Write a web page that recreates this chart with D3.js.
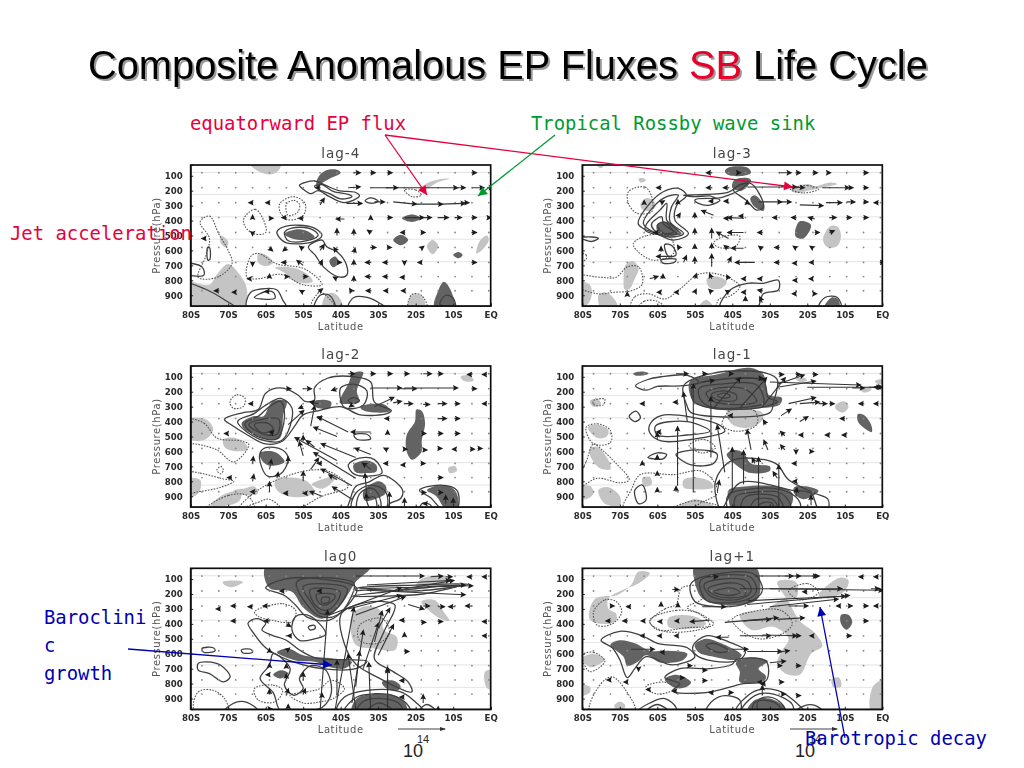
<!DOCTYPE html>
<html>
<head>
<meta charset="utf-8"/>
<title>Composite Anomalous EP Fluxes SB Life Cycle</title>
<script src="https://cdn.jsdelivr.net/npm/d3@7"></script>
<style>
    html, body { margin: 0; padding: 0; background: #fff; }
    svg { display: block; }
    .slide-title { font: 39.8px "Liberation Sans", Arial, sans-serif; filter: drop-shadow(2px 2px 0 #9a9a9a); }
    .note { font: 18.9px "DejaVu Sans Mono", monospace; }
    .panel-title { font: 13.5px "DejaVu Sans", sans-serif; fill: #444; letter-spacing: 1px; text-anchor: middle; }
    .axis-name { font: 10px "DejaVu Sans", sans-serif; fill: #555; letter-spacing: .6px; text-anchor: middle; }
    .axis text { font: bold 8.6px "DejaVu Sans", sans-serif; fill: #2a2a2a; }
    .axis path, .axis line { stroke: #222; }
    .power { font: 18px "Liberation Sans", Arial, sans-serif; fill: #222; }
</style>
</head>
<body>
<svg id="chart" width="1024" height="768"></svg>
<script>
// axes
const latTicks = [-80, -70, -60, -50, -40, -30, -20, -10, 0];
const latLabels = ["80S", "70S", "60S", "50S", "40S", "30S", "20S", "10S", "EQ"];
const pressureTicks = [100, 200, 300, 400, 500, 600, 700, 800, 900];
// flux grid, small dots where the vectors are too short to see
const gridLats = [-77, -72.5, -68, -63.5, -59, -54.5, -50, -45.5, -41, -36.5, -32, -27.5, -23, -18.5, -14, -9.5, -5, -0.5];
const gridLevels = [80, 180, 280, 380, 480, 580, 680, 775, 870];
// faint scan lines of the original plots
const faintLevels = [78, 225, 375, 525, 675, 825];

// lag-4: shading, contours as [lat, hPa]; arrows as [lat, hPa, dLat, dHPa]
const lagM4Light = [
    [[-64,25],[-62,70],[-59,92],[-57,75],[-56,25]],
    [[-19,190],[-17,150],[-14,125],[-11,120],[-14,142],[-16,172],[-18,198]],
    [[-17,570],[-15.5,530],[-14,570],[-15.5,625]],
    [[-3.8,620],[-3,540],[-1,500],[-.5,530],[-2,590]],
    [[-72,500],[-70,540],[-70.5,580],[-72,550]],
    [[-62,625],[-60,630],[-58,680],[-60,705],[-62,680]],
    [[-57.5,715],[-52,720],[-48,780],[-47.5,810],[-52,812],[-55,750]],
    [[-82,810],[-75,830],[-73,760],[-70,690],[-67,760],[-65,860],[-66,985],[-82,985]],
    [[-44.8,985],[-44,900],[-42,885],[-40,930],[-39.5,985]],
    [[-22,985],[-21,900],[-18.5,905],[-17.5,985]]
];
const lagM4Dark = [
    [[-46.5,170],[-46,110],[-44,65],[-41,60],[-40,80],[-43,120],[-45,150],[-46,180]],
    [[-55,490],[-52,460],[-49,470],[-47,510],[-49,530],[-53,520]],
    [[-43,670],[-41.5,640],[-40.5,680],[-42,712]],
    [[-23.7,385],[-21,360],[-18.5,385],[-21,410]],
    [[-26,530],[-24,495],[-22,530],[-24,565]],
    [[-10,630],[-8.5,610],[-7.5,630],[-8.5,652]],
    [[-15,985],[-14,870],[-12.5,810],[-11,850],[-9.7,985]]
];
const lagM4Solid = [
    [[-51,165],[-47,135],[-44,165],[-40.5,200],[-36,212],[-35,235],[-39,280],[-43,240],[-46,200],[-48,220],[-50,190]],
    [[-47,170],[-45,160],[-42,205],[-38,225],[-37,240],[-40,255],[-43,220],[-46,190]],
    [[-57,475],[-54.5,437],[-47.5,446],[-45,498],[-47.5,542],[-54.5,549],[-56.5,509]],
    [[-55,480],[-53,450],[-48,455],[-46,498],[-49,535],[-54,535]],
    [[-48.6,576],[-46.8,632],[-44.6,710],[-40.6,777],[-38.4,766],[-38.6,688],[-41,609],[-43.7,576],[-45,531]],
    [[-65,985],[-64,880],[-60,855],[-57,865],[-55.5,930],[-54.5,985]],
    [[-63,915],[-60,875],[-58,880],[-57.5,920],[-61,925]],
    [[-38,985],[-36.5,915],[-33,915],[-29.5,955],[-28,985]],
    [[-13.5,960],[-12,900],[-10,920],[-9.5,985]],
    [[-82,690],[-77,710],[-76.5,765],[-82,750]],
    [[-75.5,580],[-75,580],[-74.9,660],[-75.4,665]],
    [[-33.5,268],[-32,248],[-30,270],[-31.8,285]],
    [[-82,820],[-76,860],[-71,930],[-68,985],[-82,985]],
    [[-47,985],[-45.5,900],[-43,900],[-41.5,985]]
];
const lagM4Dashed = [
    [[-77.5,410],[-75,370],[-72.5,490],[-70,600],[-69,690],[-73,780],[-78,780],[-76,640],[-75,520]],
    [[-65.8,385],[-62.8,325],[-60.6,395],[-60,480],[-63,490],[-65.5,440]],
    [[-56.2,285],[-52.6,240],[-49.5,285],[-50,365],[-54,395],[-56.2,340]],
    [[-54.5,290],[-52.5,265],[-51,290],[-51.5,345],[-54,365]],
    [[-64,640],[-62,620],[-57,690],[-50,720],[-46,790],[-45,830],[-50,830],[-56,760],[-62,790],[-65,780]],
    [[-23,195],[-20,195],[-18.5,230],[-21,240]],
    [[-22,985],[-21,895],[-18.5,900],[-17,985]],
    [[-48,985],[-45.5,880],[-41.5,985]]
];
const lagM4Arrows = [
    [-36.5,80,1.5,0],[-32,80,1,0],[-27.5,80,1,0],[-5,80,1,0],[-45.5,180,-1,0],
    [-38,180,3,-5],[-32,180,23,0],[-28,180,3,0],[-9.5,180,2.5,0],[-5,180,3,0],[-1,180,1.5,0],
    [-63.5,280,-.8,0],[-59,280,-.8,0],[-45.5,295,1,-40],[-38.5,285,4,0],[-31,275,2.5,0],
    [-26,275,6,15],[-20,290,7,0],[-13,290,6,-5],[-8,280,2,0],
    [-63.5,385,0,-15],[-59,385,.8,0],[-54.5,380,-1,0],[-50,385,-1,0],[-39,390,-2,0],[-32,390,0,-18],[-27.5,380,1,0],
    [-23,380,5,0],[-18,380,2,0],[-14,380,2.5,0],[-9.5,380,1.5,0],[-5,380,1,0],[-.6,380,.5,0],
    [-63.5,480,0,15],[-41,500,0,-40],[-36.5,500,0,-35],[-32,480,-.7,-12],[-23,480,-.8,0],[-18.5,480,.8,0],
    [-5,480,1,0],[-76,520,-.8,0],[-59,585,.7,15],[-54.5,585,-.7,15],[-50,590,-.8,-15],[-45.5,600,1,-35],
    [-41,610,-.7,-25],[-36.5,620,.3,-30],[-32,580,1.2,0],[-27.5,580,.8,0],[-18.5,585,.5,-10],
    [-63.5,680,0,20],[-54.5,680,-1,0],[-50,700,-1.5,-30],[-45.5,700,.5,-30],[-41,680,1,0],[-36.5,700,0,-30],
    [-32,680,-1.2,0],[-27.5,680,-1,0],[-23,680,0,10],[-18.5,680,-.7,0],[-5,680,1,0],
    [-64,790,-.7,0],[-59,775,0,-10],[-54.5,775,.5,0],[-50,775,1,0],[-41,790,-.8,-10],[-36.5,810,0,-30],
    [-32,775,-1.2,0],[-27.5,775,-1,0],[-23,780,-.9,0],[-72.5,870,-1,0],[-68,880,-.7,0],[-59,875,-1,0],
    [-50,880,-.7,-10],[-46,880,1,-20],[-37,880,-.5,-20],[-32,870,-1,0],[-27.5,870,-.8,0],[-23,870,-.6,0]
];

// lag-3
const lagM3Light = [
    [[-76.5,20],[-75,50],[-74,20]],
    [[-65,120],[-64,115],[-63,130],[-64.5,145]],
    [[-64.5,290],[-63,250],[-61,265],[-60.5,310],[-62,335],[-64,325]],
    [[-69,800],[-68.5,700],[-66.5,670],[-65,720],[-66,790],[-67.5,860],[-68.7,860]],
    [[-82,810],[-78,830],[-77.5,900],[-79,970],[-82,970]],
    [[-75.7,900],[-74,880],[-72,910],[-70.5,985],[-75,985]],
    [[-49,985],[-47,930],[-45,985]],
    [[-46.8,790],[-44,775],[-41.5,810],[-43,855],[-46,850]],
    [[-24.5,190],[-20,155],[-18,170],[-14,145],[-12,155],[-16,180],[-19,195],[-23,215]],
    [[-15.8,530],[-14,440],[-12,440],[-11,500],[-12,570],[-14.5,580]]
];
const lagM3Dark = [
    [[-42,70],[-41,45],[-36,45],[-35,80],[-37,100],[-41,95]],
    [[-39.5,130],[-36,115],[-35,130],[-37.5,200],[-40,180]],
    [[-35.2,250],[-34,230],[-31.5,300],[-31.7,335],[-34,310]],
    [[-60,425],[-57,410],[-55,450],[-53.5,490],[-57,495],[-60,470]],
    [[-23.3,480],[-22,405],[-19,430],[-21,520],[-23,510]],
    [[-15.5,985],[-13.5,915],[-11.7,930],[-11.5,985]]
];
const lagM3Solid = [
    [[-65.1,420],[-62,285],[-58.4,207],[-54.4,185],[-52.2,230],[-54.8,297],[-55.3,397],[-51.7,487],[-55.7,531],[-60.2,487],[-63.7,453]],
    [[-63.7,420],[-60.6,297],[-57.5,240],[-54.4,230],[-56.2,308],[-56.6,408],[-53,487],[-56.6,510],[-61,476]],
    [[-62.8,420],[-59.3,330],[-57.5,285],[-57.5,397],[-54.4,476],[-57.5,498],[-63.2,465]],
    [[-61.5,420],[-58.8,375],[-58.4,420],[-55.7,476],[-58.4,487],[-61,460]],
    [[-60,430],[-58,410],[-56,460],[-54.8,490],[-58,490]],
    [[-50,263],[-46.8,252],[-43.3,263],[-46,297],[-49,285]],
    [[-53,230],[-47,225],[-41,210],[-38,160],[-36,150],[-38,195],[-44,250],[-46,235],[-50,240]],
    [[-39.7,195],[-35.3,150],[-32.6,230],[-31.7,310],[-33.5,330],[-36.2,265]],
    [[-80.5,515],[-77.5,510],[-75.7,520],[-77.5,540],[-79.3,530]],
    [[-43.3,985],[-40.6,865],[-36,820],[-31.7,820],[-27.7,800],[-27.7,865],[-31.7,890],[-33.5,985]],
    [[-17,985],[-15.3,915],[-12,915],[-11,985]],
    [[-58,560],[-56,570],[-55,630],[-57,640]],
    [[-59,665],[-55,660],[-55.5,680],[-58.5,685]]
];
const lagM3Dashed = [
    [[-67.7,207],[-63.3,175],[-61.5,240],[-61.5,340],[-65.5,350],[-67.7,285]],
    [[-66.4,555],[-62.8,500],[-56.6,510],[-55.7,620],[-61,665],[-65.5,600]],
    [[-82,770],[-75,780],[-71,780],[-68,710],[-65,710],[-64,825],[-67,870],[-71.5,880],[-76,890],[-82,830]],
    [[-67,985],[-66,910],[-62.5,890],[-58,925],[-54,860],[-49,760],[-43.5,760],[-38,840],[-40.6,905],[-43.5,925],[-45,985]],
    [[-65,985],[-63.5,940],[-60,940],[-58,985]],
    [[-45,550],[-42,505],[-38,505],[-39,570],[-43.5,580]],
    [[-80.5,620],[-79,630],[-79,660],[-80.5,670]],
    [[-24.5,190],[-20,165],[-17,190],[-21,215]]
];
const lagM3Arrows = [
    [-45.5,80,-1.2,0],[-38,80,0,0],[-27.5,80,3,0],[-23,80,1,0],[-18.5,80,1,0],[-14,80,0,0],[-5,80,1,0],
    [-59,180,-1,0],[-45.5,180,-1.2,0],[-41,180,-1.2,0],[-36,175,13,0],[-27,170,6,10],[-16,180,7,0],[-9.5,180,1.5,0],[-5,180,1,0],
    [-63.5,280,0,-10],[-59,280,.7,-10],[-54.5,280,0,-12],[-45,270,-1,0],[-41,270,-1,0],[-36,285,0,-15],[-33,275,6,0],
    [-27,275,2.5,0],[-22,295,6,5],[-15,280,4,0],[-9.5,275,2,0],[-5,275,1,0],[-1,280,-1,0],
    [-54.5,375,.5,-20],[-50,385,0,-30],[-41,385,-1,0],[-37,385,-4,-5],[-45,365,-3,-30],[-37,370,-1,0],
    [-28,380,-1,0],[-23,380,-1,0],[-18,390,-1.5,-10],[-14,380,1.5,0],[-9.5,380,1,0],[-5,380,1,0],
    [-60,480,-.7,0],[-50,495,0,-35],[-45.5,520,0,-60],[-41,520,-3,-40],[-37,480,-4,0],[-32,480,-1,0],
    [-18,480,1,0],[-14,480,1,-10],[-59,610,0,-30],[-54,590,-.5,-20],[-50,590,0,-25],[-45.5,590,0,-30],[-41,590,-1,-20],
    [-37,585,-3,0],[-32,590,-.8,-15],[-27.5,580,-1,0],[-23,585,-.6,-10],[-18.5,585,-.6,-10],
    [-56,640,-4,0],[-53,680,.7,-40],[-50,690,0,-40],[-45.5,710,0,-80],[-41,680,.6,-30],[-34,680,-5,0],[-27.5,680,-1,0],[-23,685,-.7,0],[-18.5,680,-.7,0],[-.6,680,1,0],
    [-62,790,2,-15],[-58.5,790,0,-25],[-50,790,.4,-30],[-45.5,790,-.5,-30],[-41,790,-.4,-20],[-36.5,790,-.8,0],[-32,790,-1,0],[-23,800,-.6,0],[-18.5,790,-.8,0],
    [-68,905,0,-20],[-59,880,-.8,0],[-54.5,880,-.7,0],[-50,880,.3,-15],[-45.5,880,-.6,-15],[-41,880,-.6,-10],[-36.5,880,-.8,0],[-32,870,-1,-5],[-23,890,-.8,0],[-18.5,890,.8,0],[-32,950,-.6,-35],[-36.5,940,0,-25]
];

// lag-2
const lagM2Light = [
    [[-82,395],[-76,385],[-74,450],[-75.5,510],[-78,530],[-82,500]],
    [[-71.3,520],[-68,510],[-65,560],[-65,590],[-69,595],[-71,570]],
    [[-82,790],[-77.5,790],[-77.5,860],[-79,900],[-82,900]],
    [[-74.7,960],[-72,900],[-68,865],[-66.5,880],[-67,930],[-71,965]],
    [[-68.5,860],[-66,850],[-63,835],[-62,880],[-66,890]],
    [[-57.5,800],[-53,775],[-49,800],[-47,870],[-49,900],[-54,900],[-57,860]],
    [[-47.7,820],[-44,780],[-41,760],[-42,800],[-45,850]],
    [[-8,100],[-6,90],[-4.5,125],[-7,130]],
    [[-11.3,710],[-9.5,700],[-9,730],[-11,745]]
];
const lagM2Dark = [
    [[-66.4,410],[-63.3,365],[-60.6,365],[-59.3,308],[-58,263],[-54.4,263],[-55.3,353],[-56.2,510],[-59.3,520],[-63.3,487],[-66,443]],
    [[-61.5,610],[-58,600],[-56,630],[-55,670],[-59,695],[-61,660]],
    [[-47.7,270],[-44,255],[-42.5,270],[-43,310],[-47,300]],
    [[-36.6,75],[-34,70],[-34.8,130],[-35.7,195],[-35,263],[-35.7,275],[-40.2,275],[-39.8,230],[-38,150]],
    [[-34.8,300],[-31,280],[-28,290],[-26.8,330],[-31,340],[-34,325]],
    [[-19.8,320],[-18.4,330],[-17.5,410],[-18.4,530],[-18.4,600],[-21,655],[-22.4,600],[-22.4,490],[-20.2,400]],
    [[-36.6,690],[-33,660],[-30.5,690],[-30.5,735],[-33,745],[-36,740]],
    [[-34,870],[-30,800],[-28,830],[-28,880],[-31,920],[-33.5,930]],
    [[-17,860],[-13,825],[-10,850],[-8.8,900],[-9,985],[-12,985],[-14.5,900]]
];
const lagM2Solid = [
    [[-71,385],[-66,340],[-62,320],[-60,210],[-56,175],[-51.5,220],[-49.5,265],[-47,255],[-47,175],[-43.5,110],[-36.5,100],[-32,135],[-31,270],[-26.5,325],[-27.5,345],[-34.8,355],[-40,300],[-45.5,325],[-50,355],[-52,420],[-55.5,530],[-60,550],[-65.5,480],[-69,425]],
    [[-67.5,400],[-63,345],[-60,290],[-56,245],[-53,310],[-54,465],[-56,530],[-60,530],[-65,470]],
    [[-65.5,410],[-62,365],[-59,300],[-56,265],[-55,375],[-57,515],[-60.5,515],[-64.5,460]],
    [[-64.5,420],[-61,385],[-56.5,385],[-57,485],[-60.5,485]],
    [[-63,420],[-59.5,410],[-58,450],[-61,475]],
    [[-40,175],[-36.5,150],[-33,195],[-34,290],[-39,305]],
    [[-38,260],[-36.5,240],[-35,260],[-36.5,280]],
    [[-61.5,610],[-60,575],[-55.5,590],[-54,650],[-56,750],[-59.5,765],[-61,710]],
    [[-38,690],[-35,645],[-31,655],[-29,745],[-32.5,765],[-36.5,750]],
    [[-36.5,490],[-33,485],[-32,515],[-35.5,520]],
    [[-38,985],[-37.5,925],[-36,835],[-32.5,805],[-28.5,760],[-23.5,860],[-24,915],[-27,950],[-27.5,985]],
    [[-35.5,985],[-35,885],[-32,845],[-30,885],[-29.5,985]],
    [[-37,985],[-36,880],[-32,825],[-28,870],[-28,985]],
    [[-32,985],[-33,920],[-31,905],[-30.5,985]],
    [[-19,860],[-13.5,825],[-9,860],[-9,985],[-13,985],[-16,910]],
    [[-19,985],[-18,945],[-16,960],[-16,985]]
];
const lagM2Dashed = [
    [[-69.5,265],[-67.7,220],[-65.5,245],[-66,300],[-68.7,310]],
    [[-82,385],[-76.5,410],[-73,510],[-66.5,530],[-64.5,555],[-68.5,670],[-73,590],[-77.5,555],[-82,530]],
    [[-73,725],[-72,700],[-71.3,725],[-72,750]],
    [[-82,740],[-77.5,745],[-72,780],[-68.5,800],[-72,840],[-78,870],[-82,880]],
    [[-67,985],[-64,895],[-57,790],[-48,725],[-43,735],[-38,835],[-45,900],[-52,985]],
    [[-66,985],[-62,940],[-59,920],[-56,985]],
    [[-76,985],[-70,895],[-65,895],[-63,985]]
];
const lagM2Arrows = [
    [-38,80,1.5,0],[-32,80,1,0],[-27.5,80,1,0],[-23,80,1,0],[-18,80,2,0],[-14,80,1,0],[-5,85,-1,0],[-1,85,-1,0],
    [-54.5,180,1,0],[-50,180,2,0],[-41,180,-1.2,10],[-32,175,8,0],[-24,180,4,0],[-23,175,14,0],[-5,180,1,0],
    [-63.5,280,-.8,0],[-50,300,-1,10],[-46,280,-2,-10],[-37,290,-.5,10],[-31,300,5,-60],[-26,275,2,-10],[-23,280,2,0],[-18,285,1.5,0],[-14,280,2,0],[-9.5,280,1,0],[-1,280,-1,0],
    [-48,430,1,-130],[-54,420,4,-90],[-45,375,-1,0],[-38,470,-8,-100],[-27,380,-1,0],[-14,380,2,0],[-9.5,380,1,0],
    [-70,480,-.8,0],[-59,490,1,-25],[-41,500,-6,-60],[-32,470,-5,0],[-27.5,480,0,-15],[-18.5,480,1,0],[-14,480,1,0],[-9.5,480,1,0],
    [-50,530,0,-30],[-47,570,-2,-40],[-50,630,-1,-90],[-41,660,-11,-150],[-36,640,-9,-90],[-32,620,-4,-40],[-27.5,590,-.8,-10],[-23,585,.5,0],[-18,590,.8,0],[-14,580,.8,0],[-9.5,585,-.5,0],[-5.5,585,1,0],[-3.5,580,1,0],
    [-63.5,680,.2,-40],[-59,720,.5,-60],[-54,680,0,-40],[-48,720,2,-70],[-45,680,-1,0],[-36,780,-11,-170],[-32,720,-2,-40],[-27.5,680,-.8,0],[-23,690,-.7,0],[-18.5,680,.8,0],
    [-69,775,-1,0],[-63.5,800,.3,-40],[-57,780,.3,-35],[-50,800,0,-60],[-41,790,-2,-30],[-37,830,-8,-110],[-33,905,-.5,-150],[-14,775,1,0],
    [-59,870,0,-60],[-63,870,-.8,0],[-54,880,-1,0],[-49,880,-.8,0],[-45,900,-3,-30],[-37,920,-5,-80],[-33,930,-.2,-40],[-27,980,0,-100],[-23,970,0,-50],[-18.5,875,1,0],[-14,875,1,0],[-17,950,-.8,0],[-12,950,0,-50],[-10,960,0,-40]
];

// lag-1
const lagM1Light = [
    [[-78,265],[-76,245],[-75,285],[-77,300]],
    [[-78.5,440],[-76,420],[-73,460],[-73.5,500],[-76,510]],
    [[-78,580],[-76,570],[-73,660],[-72.5,720],[-75.5,710],[-78,620]],
    [[-82,850],[-78,830],[-77,880],[-79,920],[-82,900]],
    [[-75.7,860],[-73,840],[-70,900],[-70,960],[-74,950]],
    [[-64,780],[-62,770],[-61.5,820],[-63.5,835]],
    [[-53,790],[-50,775],[-46,800],[-45,840],[-50,855],[-53,840]],
    [[-41.5,330],[-36,320],[-32,340],[-32,390],[-35,440],[-40,420]],
    [[-12.5,290],[-10,265],[-9,300],[-10.5,340],[-12.3,320]],
    [[-23,115],[-21,105],[-20,125],[-22,135]],
    [[-6,180],[-3,170],[-3,190],[-5,205]],
    [[-2,130],[0,115],[1,140],[-1,150]],
    [[-55,985],[-50,920],[-44,985]]
];
const lagM1Dark = [
    [[-51.3,130],[-44.2,85],[-35.3,40],[-31.7,85],[-30.4,218],[-26.8,240],[-27.3,285],[-31.7,308],[-44.2,320],[-50.4,263]],
    [[-66.4,78],[-64,65],[-62.3,78],[-64,92],[-66,90]],
    [[-6.5,350],[-5,355],[-3,420],[-2.8,470],[-5,440],[-6.5,400]],
    [[-41.5,620],[-39.5,590],[-37,610],[-35,680],[-30,700],[-30,730],[-35,745],[-39,690]],
    [[-41,860],[-37,835],[-28,835],[-24,880],[-25,985],[-40,985],[-41,920]],
    [[-23.5,840],[-20,835],[-17,865],[-21,920],[-23.5,880]]
];
const lagM1Solid = [
    [[-50.4,165],[-44,120],[-31.7,130],[-30.4,240],[-28,265],[-33,308],[-46,308],[-50.4,263]],
    [[-48.7,175],[-43.5,150],[-33.5,155],[-31.7,275],[-35,300],[-46,300],[-48.7,240]],
    [[-47,210],[-43.5,175],[-36.4,185],[-33.5,265],[-37,285],[-45,265]],
    [[-45.6,220],[-42.7,195],[-39,220],[-39,255],[-44,255]],
    [[-44,225],[-42,210],[-40.5,230],[-42,245]],
    [[-65.8,160],[-62.7,120],[-59,100],[-52,90],[-49,135],[-53,160],[-60,165],[-63,190]],
    [[-53,160],[-52,300],[-51,340],[-30,340],[-29,270],[-28,120],[-31,75],[-45,75]],
    [[-62,420],[-59,360],[-51,370],[-43,430],[-42,465],[-51,520],[-59,530],[-62,475]],
    [[-60.5,430],[-52,400],[-46,465],[-52,490],[-60,490]],
    [[-62.5,640],[-60,610],[-57.5,620],[-58.5,650],[-61,650]],
    [[-55,620],[-49,590],[-44,620],[-45,680],[-51,690]],
    [[-67.5,365],[-65.7,330],[-64.5,375],[-66,400]],
    [[-66,860],[-64,825],[-63,925],[-65,950]],
    [[-41,985],[-41,890],[-36.5,855],[-27,855],[-22.5,920],[-22,985]],
    [[-39,985],[-39,900],[-35,875],[-27.5,875],[-25,930],[-24.5,985]],
    [[-37.5,985],[-36.5,905],[-28,905],[-26.5,985]],
    [[-35,985],[-34,925],[-29,925],[-28,985]],
    [[-33.5,985],[-32,945],[-29.5,945],[-29,985]],
    [[-43,985],[-44.5,800],[-40,660],[-28.5,680],[-25,790],[-18,880],[-14.5,920],[-14.5,985],[-17,985],[-19,880],[-24,860],[-38,810]]
];
const lagM1Dashed = [
    [[-79,440],[-76,415],[-72.5,460],[-72.5,540],[-77,550]],
    [[-82,820],[-79,670],[-77,550],[-74.5,595],[-71,680],[-67.5,790],[-70,810],[-76,780],[-82,860]],
    [[-77,260],[-74,250],[-74.5,290],[-77,285]],
    [[-69,985],[-67,860],[-64.5,755],[-55.5,755],[-48.5,730],[-45,800],[-44,880],[-48.5,945],[-51,985]],
    [[-51,545],[-47.5,520],[-44.5,575],[-48,610],[-51.5,565]],
    [[-40.2,320],[-34,330],[-33.5,420],[-39,465],[-42.7,420]],
    [[-56,985],[-50,930],[-42,985]]
];
const lagM1Arrows = [
    [-55,80,3,0],[-48,80,1,0],[-41,80,1,0],[-27.5,85,1,0],[-23,85,1,0],[-18.5,85,1,0],
    [-48,135,3,-10],[-38,110,6,0],[-28,150,7,-60],[-28,170,10,-40],[-30,135,24,20],[-20,170,20,0],[-8,175,3,0],[-3.5,170,3,0],[-1,170,-1,0],
    [-45,310,7,-200],[-38,310,7,-200],[-32,300,6,-190],[-25,280,7,-40],[-22,280,5,-10],[-17,280,2,0],[-14,280,1,0],[-5,280,-1,0],[-1,280,-1,0],
    [-63.5,280,-.8,0],[-54.5,270,-1,0],
    [-50.4,875,0,-720],[-45.7,640,0,-400],[-52,400,-1,-190],[-54.6,830,0,-390],[-42,740,-2,-310],[-40,880,0,-300],[-37,820,0,-220],[-33,985,0,-340],[-27.6,985,0,-290],[-44,870,.5,-70],
    [-27,360,2.5,-40],[-22,400,2,-30],[-10,380,-1,0],[-40,360,-.8,0],[-31,420,-.6,-25],
    [-26,495,-1,-25],[-21,490,-1,0],[-14,490,-1,0],[-9.5,490,-1,0],[-35,590,-1,-130],[-30.5,590,-1,-60],[-26,590,-1,-30],[-23,600,0,10],[-18.5,600,0,0],
    [-34,680,-.6,-30],[-28,780,-1,-40],[-23,680,-.8,0],[-60,760,0,-20],[-64,680,0,-10],[-60,640,0,-10],[-60,520,0,-40],[-59,470,-1,0],
    [-55,870,0,-30],[-60,870,0,-20],[-23,800,-.6,0],[-23,900,.2,-50],[-19,960,0,-60]
];

// lag0
const lag0Light = [
    [[-71.5,120],[-68,110],[-66,120],[-69,155],[-71,140]],
    [[-20,150],[-18.5,100],[-13.5,75],[-11,95],[-13,140],[-18,160]],
    [[-18.5,250],[-15,240],[-12.5,320],[-11,380],[-13,370],[-17,300]],
    [[-1.5,720],[1,710],[1,840],[-1,830]],
    [[-37,340],[-33,280],[-29,320],[-28.5,440],[-25,490],[-25.5,575],[-31,565],[-36,540]]
];
const lag0Dark = [
    [[-60,15],[-32,15],[-36,120],[-38,200],[-40.5,290],[-45,365],[-50,290],[-53,185],[-59,160]],
    [[-57,590],[-54,565],[-50,610],[-42,632],[-37,655],[-39,699],[-43,688],[-47,654],[-52,645]],
    [[-58,740],[-56,710],[-54,730],[-56,765]],
    [[-29,790],[-26,780],[-24,820],[-25,850],[-28,830]],
    [[-37,985],[-35.7,900],[-31.3,870],[-25,885],[-22.5,945],[-22.5,985]]
];
const lag0Solid = [
    [[-51.7,118],[-36.5,129],[-37.4,230],[-40.9,341],[-45.3,352],[-48.9,275]],
    [[-50,150],[-38.3,163],[-39.3,240],[-42.8,330],[-45.4,330],[-48,252]],
    [[-48.2,174],[-40.2,185],[-41,252],[-43.7,308],[-46.4,286]],
    [[-46.5,205],[-41.5,210],[-42.5,252],[-44.6,275],[-46,252]],
    [[-45,225],[-43,225],[-43.3,255],[-45,260]],
    [[-60,160],[-55,210],[-52,275],[-49,355],[-43,375],[-39,300],[-35.7,163],[-45,100],[-55,100]],
    [[-64.7,395],[-62.5,365],[-60,395],[-61,440],[-58.4,475],[-54.5,510],[-51,575],[-46.5,630],[-39,640],[-33,650],[-36,700],[-45,700],[-52,660],[-56,620],[-60,560],[-63,470]],
    [[-52,350],[-49,340],[-46,390],[-44,470],[-47,500],[-51,510],[-53,440]],
    [[-48.6,420],[-47,410],[-46.8,430],[-48.2,440]],
    [[-78,665],[-75.7,654],[-72,677],[-69.5,755],[-71.3,788],[-75,733],[-78,710]],
    [[-77,565],[-74,560],[-73.5,580],[-76.5,590]],
    [[-66.5,575],[-64,570],[-63.5,590],[-66,595]],
    [[-61.5,766],[-59,677],[-58,600],[-53.5,699],[-55,811],[-52.5,878],[-50,833],[-51,766],[-48,680],[-44,710],[-42.5,860],[-45,960],[-50,985],[-56,985],[-58,860]],
    [[-41,985],[-39,890],[-33,845],[-24,855],[-20,925],[-18,985]],
    [[-39,985],[-35.7,890],[-31,868],[-26,880],[-22.4,935],[-21.5,985]],
    [[-35.7,985],[-34,920],[-29,900],[-24.6,930],[-23.5,985]],
    [[-33,985],[-30,930],[-26.5,970]],
    [[-36,165],[-20,140],[-6,135],[-20,180],[-31,170],[-36,175]],
    [[-37,215],[-20,165],[-8,140],[-18,200],[-30,215]],
    [[-40,340],[-36,275],[-29,250],[-25.5,275],[-28.5,455],[-31,635],[-26,720],[-22,790],[-21,855],[-30,760],[-37,640]],
    [[-71,985],[-68,925],[-65,925],[-62,985]],
    [[-19,980],[-17,940],[-14.5,985]]
];
const lag0Dashed = [
    [[-63,320],[-55.5,265],[-52,310],[-53,385],[-58.5,375],[-62,350]],
    [[-79,985],[-78,855],[-74,845],[-71,900],[-70,985]],
    [[-63,833],[-58,810],[-55.5,845],[-57.5,922],[-62,910]],
    [[-53.5,878],[-49,855],[-45.5,833],[-42.5,777],[-39,833],[-42,900],[-45.5,922],[-50,930]],
    [[-35,410],[-29,364],[-27,460],[-30,530],[-35,510]]
];
const lag0Arrows = [
    [-36,80,18,0],[-16,85,3,-5],[-12,85,1.5,0],[-5,85,-1,0],[-1,85,-1,0],
    [-55,180,-1,0],[-45,180,-1,0],[-35,165,30,-20],[-33,175,26,30],[-24,170,14,-60],[-17,150,10,-10],[-33,140,22,-30],
    [-43,340,19,-180],[-38,300,14,-90],[-22,270,4,30],[-36,340,13,-120],
    [-72,300,-1,0],[-68,280,-1,0],[-63.5,285,-1,0],[-59,280,-1.5,0],[-18,280,1.5,0],[-14,285,1.5,0],[-9.5,285,-1.5,0],[-5,280,-1.5,0],
    [-41,880,0,-230],[-37,930,3,-480],[-45.5,985,2,-670],[-41.5,975,5,-680],[-32,985,-.5,-320],[-27.5,985,0,-280],[-36,970,-2,-360],[-36,820,1,-230],[-34,700,4,-300],[-30,610,4,-200],[-31,520,2,-200],[-30,430,3,-130],
    [-68,380,-1,0],[-59,380,-1.2,0],[-54.5,400,1,15],[-23,375,-1,0],[-18.5,390,1,0],[-14,385,1,0],[-1,385,-1,0],
    [-53,480,-1,0],[-23,480,0,-15],[-1,480,-1,0],[-59,590,0,-20],[-54.5,580,.7,-15],[-23,585,1,0],
    [-59,680,0,-10],[-54.5,690,0,-15],[-50,780,0,-50],[-27.5,720,0,-25],[-23,780,-1,0],
    [-59,740,-.7,0],[-54.5,770,0,-30],[-54.5,880,.5,-40],[-59,870,0,-25],[-50,870,.5,-30],[-45,890,0,-20],[-18,930,0,-50],[-23,890,-1,0],[-14,975,0,-15],[-59,970,.5,0],[-54,960,0,-15]
];

// lag+1
const lagP1Light = [
    [[-76.5,230],[-74,215],[-71,210],[-67,140],[-65,50],[-62,60],[-65,130],[-69,170],[-73,230],[-73,300],[-71,330],[-71,380],[-75,400],[-78,370],[-78,300]],
    [[-57,360],[-53,340],[-49,360],[-47,400],[-50,430],[-57,420]],
    [[-38,340],[-31,300],[-26,230],[-23,230],[-23,120],[-28,120],[-25,250],[-22,380],[-18,460],[-16,550],[-19,600],[-22,740],[-26,730],[-28,660],[-27,590],[-25,500],[-29,420],[-35,440]],
    [[-17,210],[-14,130],[-11,90],[-9,110],[-10,180],[-13,220],[-15,230]],
    [[-82,810],[-78,820],[-78,860],[-80,880]],
    [[-71.5,950],[-70,920],[-68.5,950],[-70,985]],
    [[-3,985],[-2.5,820],[0,780],[1,985]],
    [[-13.5,770],[-11.5,760],[-11,820],[-13,825]],
    [[-80,630],[-77,600],[-74,640],[-78,690]]
];
const lagP1Dark = [
    [[-50,15],[-34,15],[-32.5,130],[-33.5,240],[-42,275],[-48,230],[-50,120]],
    [[-72.5,540],[-70,510],[-66,530],[-62,580],[-57,580],[-52,600],[-53,640],[-59,660],[-63,610],[-65,650],[-68,680],[-69,620]],
    [[-50,540],[-47,500],[-43,530],[-37.5,610],[-39,640],[-45,620],[-49,590]],
    [[-39,660],[-35,625],[-30.5,650],[-33,700],[-31,750],[-31.5,780],[-38,790],[-38,720]],
    [[-58,770],[-55,740],[-51,790],[-52,820],[-55,830]],
    [[-11,340],[-9,340],[-8,390],[-9.5,440],[-11,400]],
    [[-36,985],[-34,910],[-30,900],[-26,960],[-26,985]]
];
const lagP1Solid = [
    [[-48.5,110],[-40,70],[-35,90],[-33.5,170],[-35,225],[-42,260],[-47,240]],
    [[-47.5,135],[-40,95],[-36,115],[-35,180],[-37,225],[-42,240],[-46,210]],
    [[-46.5,165],[-40,125],[-37,150],[-36.5,205],[-41,225],[-45,205]],
    [[-45,185],[-40,160],[-38,190],[-41,210]],
    [[-51,130],[-41,55],[-34,70],[-32,180],[-36,260],[-44,285],[-50,250]],
    [[-75,510],[-70,450],[-64,480],[-60,530],[-52,560],[-50,620],[-56,675],[-63,620],[-66,700],[-68,760],[-70,640],[-72,560]],
    [[-50.5,550],[-47,480],[-41,520],[-36.5,580],[-38,640],[-45,650],[-50,600]],
    [[-47,545],[-45,530],[-41,580],[-44,590]],
    [[-58,760],[-54,700],[-46,700],[-40,670],[-39,640],[-31,650],[-31,780],[-37,800],[-47,860],[-56,850],[-54,800]],
    [[-33,985],[-33,910],[-30,890],[-27,930],[-26,985]],
    [[-34.5,985],[-34,925],[-30,915],[-27.5,950],[-27,985]],
    [[-37.5,985],[-34,880],[-29,870],[-24,940],[-24,985]],
    [[-39,985],[-34,850],[-28,845],[-22,950],[-21,985]],
    [[-65,985],[-62,930],[-58,900],[-55,960],[-55,985]],
    [[-63,985],[-60,940],[-57,985]],
    [[-47,985],[-45,910],[-42,880],[-38,910],[-38,985]],
    [[-23,985],[-21,950],[-18,945],[-16,985]]
];
const lagP1Dashed = [
    [[-77,320],[-74,240],[-71,250],[-69.5,320],[-72,400],[-76,410]],
    [[-62,390],[-58,300],[-55,270],[-53.5,160],[-48,155],[-48,230],[-52,290],[-48,340],[-45,400],[-49,440],[-58,450]],
    [[-62,375],[-55,310],[-49,330],[-46,410],[-52,425],[-60,440]],
    [[-40,370],[-35,320],[-27,310],[-24,400],[-27,470],[-33,500],[-38,440]],
    [[-25,180],[-20,130],[-17,190],[-22,240]],
    [[-63,820],[-58,790],[-55,830],[-60,870]],
    [[-78,985],[-75,800],[-72,755],[-68,860],[-66,985]],
    [[-80,610],[-77,590],[-74,650],[-78,720]]
];
const lagP1Arrows = [
    [-47,85,3,0],[-34,80,10,0],[-26,80,9,0],[-23,80,1,0],[-18.5,80,1,0],[-5,85,-1,0],[-1,85,-1,0],
    [-38,165,27,0],[-30,165,30,10],[-36,245,26,-30],[-36,270,27,-60],[-30,285,18,-50],[-25,280,5,0],[-20,185,-1,0],[-3,165,2,0],
    [-56,170,1.5,0],[-72.5,280,.8,0],[-67,285,-1,0],[-59,280,0,-20],[-54.5,290,0,-25],[-48,285,6,0],[-11,280,-1,0],[-9,280,.8,0],[-5,280,1,0],[-1,280,-1,0],
    [-72.5,380,-1,0],[-68,380,-1,0],[-63.5,380,-.6,0],[-59,385,-.6,0],[-54.5,380,-.6,0],[-46,375,-5,10],[-37,380,7,-10],[-42,390,14,-30],[-28,370,7,-10],[-5,380,1,0],
    [-63.5,480,-.8,0],[-59,480,-.7,0],[-54.5,480,-.7,0],[-41,490,-3,0],[-38,480,8,0],[-32,475,10,5],[-25,480,2,0],[-18.5,480,-.6,0],[-9.5,480,1,0],
    [-67,570,6,0],[-58,590,-1,0],[-40,570,4,0],[-36,585,9,0],[-28,590,3,-10],[-65,700,0,10],[-52,680,1,0],[-30,660,4,-10],[-28,680,1,0],[-23,680,1,0],[-48,710,1,0],
    [-72.5,775,-.7,0],[-68,790,-.7,0],[-54,760,1,0],[-48,780,1,0],[-32,790,-1,0],[-32,830,.5,-40],[-27.5,790,1,0],
    [-62,840,-.7,0],[-55,850,-.7,0],[-45,860,-1,0],[-41,860,1,0],[-32,880,0,-60],[-27,870,1,0],[-23,880,1,0]
];

const panelTitles = ["lag-4", "lag-3", "lag-2", "lag-1", "lag0", "lag+1"];
const panelLight = [lagM4Light, lagM3Light, lagM2Light, lagM1Light, lag0Light, lagP1Light];
const panelDark = [lagM4Dark, lagM3Dark, lagM2Dark, lagM1Dark, lag0Dark, lagP1Dark];
const panelSolid = [lagM4Solid, lagM3Solid, lagM2Solid, lagM1Solid, lag0Solid, lagP1Solid];
const panelDashed = [lagM4Dashed, lagM3Dashed, lagM2Dashed, lagM1Dashed, lag0Dashed, lagP1Dashed];
const panelArrows = [lagM4Arrows, lagM3Arrows, lagM2Arrows, lagM1Arrows, lag0Arrows, lagP1Arrows];

const colX = [190.7, 582.3];
const rowY = [165, 366, 568.3];
const plotW = 300, plotH = 141;

const svg = d3.select("#chart");
const defs = svg.append("defs");
defs.append("filter").attr("id", "soft").append("feGaussianBlur").attr("stdDeviation", 0.6);

const outline = d3.line().curve(d3.curveCatmullRomClosed.alpha(0.5));

panelTitles.forEach(function(title, i) {
    const left = colX[i % 2], top = rowY[Math.floor(i / 2)];
    const x = d3.scaleLinear().domain([-80, 0]).range([0, plotW]);
    const y = d3.scaleLinear().domain([28, 972]).range([0, plotH]);
    const clipId = "clip" + i;
    defs.append("clipPath").attr("id", clipId).append("rect").attr("width", plotW).attr("height", plotH);

    const g = svg.append("g").attr("transform", `translate(${left},${top})`).attr("filter", "url(#soft)");
    const plot = g.append("g").attr("clip-path", `url(#${clipId})`);
    const shape = d => outline(d.map(p => [x(p[0]), y(p[1])]));

    plot.selectAll(".faint").data(faintLevels).join("line").attr("class", "faint")
        .attr("x1", 0).attr("x2", plotW).attr("y1", y).attr("y2", y)
        .attr("stroke", "#ddd").attr("stroke-width", 0.8);

    plot.selectAll(".light").data(panelLight[i]).join("path").attr("class", "light")
        .attr("d", shape).attr("fill", "#c4c4c4");
    plot.selectAll(".dark").data(panelDark[i]).join("path").attr("class", "dark")
        .attr("d", shape).attr("fill", "#636363");
    plot.selectAll(".dashed").data(panelDashed[i]).join("path").attr("class", "dashed")
        .attr("d", shape).attr("fill", "none").attr("stroke", "#555").attr("stroke-width", 1.1).attr("stroke-dasharray", "1.6 1.3");
    plot.selectAll(".solid").data(panelSolid[i]).join("path").attr("class", "solid")
        .attr("d", shape).attr("fill", "none").attr("stroke", "#404040").attr("stroke-width", 1.3);

    gridLevels.forEach(function(level) {
        plot.selectAll(".dot" + level).data(gridLats).join("circle").attr("class", "dot" + level)
            .attr("cx", d => x(d)).attr("cy", y(level)).attr("r", 0.9).attr("fill", "#888");
    });

    // flux vectors, shaft plus a small filled head
    const arrows = plot.selectAll(".flux").data(panelArrows[i]).join("g").attr("class", "flux");
    arrows.append("line")
        .attr("x1", d => x(d[0])).attr("y1", d => y(d[1]))
        .attr("x2", d => x(d[0] + d[2])).attr("y2", d => y(d[1] + d[3]))
        .attr("stroke", "#333").attr("stroke-width", 1.1);
    arrows.append("path")
        .attr("transform", function(d) {
            const angle = Math.atan2(y(d[1] + d[3]) - y(d[1]), x(d[0] + d[2]) - x(d[0])) * 180 / Math.PI;
            return `translate(${x(d[0] + d[2])},${y(d[1] + d[3])}) rotate(${angle})`;
        })
        .attr("d", "M2,0L-4,-2.9L-3,0L-4,2.9Z").attr("fill", "#1c1c1c");

    g.append("g").attr("class", "axis").attr("transform", `translate(0,${plotH})`)
        .call(d3.axisBottom(x).tickValues(latTicks).tickFormat((d, k) => latLabels[k]).tickSize(-2.5).tickPadding(6));
    g.append("g").attr("class", "axis")
        .call(d3.axisLeft(y).tickValues(pressureTicks).tickSize(-2.5).tickPadding(8));
    g.append("rect").attr("width", plotW).attr("height", plotH).attr("fill", "none").attr("stroke", "#111").attr("stroke-width", 1.7);

    g.append("text").attr("class", "panel-title").attr("x", plotW / 2).attr("y", -7).text(title);
    g.append("text").attr("class", "axis-name").attr("x", plotW / 2).attr("y", plotH + 24).text("Latitude");
    g.append("text").attr("class", "axis-name")
        .attr("transform", `translate(-31,${plotH / 2}) rotate(-90)`).text("Pressure(hPa)");
});

// reference vectors under the bottom row, then the exponent labels
[[398, 445], [790, 837]].forEach(function(r) {
    const ref = svg.append("g").attr("filter", "url(#soft)");
    ref.append("line").attr("x1", r[0]).attr("x2", r[1]).attr("y1", 729).attr("y2", 729).attr("stroke", "#444");
    ref.append("path").attr("transform", `translate(${r[1]},729)`).attr("d", "M1,0L-5,-2L-5,2Z").attr("fill", "#333");
    svg.append("text").attr("class", "power").attr("x", r[0] + 5).attr("y", 757).text("10");
    svg.append("text").attr("class", "power").attr("x", r[0] + 19).attr("y", 743).style("font-size", "11px").text("14");
});

// slide title
const slideTitle = svg.append("text").attr("class", "slide-title").attr("x", 88).attr("y", 79).attr("fill", "#000");
slideTitle.append("tspan").text("Composite Anomalous EP Fluxes ");
slideTitle.append("tspan").attr("fill", "#e8002d").text("SB");
slideTitle.append("tspan").text(" Life Cycle");

// call-outs on top of the plots
const red = "#e6003c", green = "#009a30", blue = "#0000b4";
const notes = [
    ["equatorward EP flux", 190, 130, red],
    ["Tropical Rossby wave sink", 531, 130, green],
    ["Jet acceleration", 10, 240, red],
    ["Baroclini", 44, 624, blue],
    ["c", 44, 652, blue],
    ["growth", 44, 680, blue],
    ["Barotropic decay", 805, 745, blue]
];
svg.selectAll(".note").data(notes).join("text").attr("class", "note")
    .attr("x", d => d[1]).attr("y", d => d[2]).attr("fill", d => d[3]).text(d => d[0]);

const callouts = [
    [385, 135, 427, 195, red],
    [385, 135, 793, 187, red],
    [555, 135, 478, 196, green],
    [128, 649, 332, 665, blue],
    [845, 738, 820, 607, blue]
];
const callout = svg.selectAll(".callout").data(callouts).join("g").attr("class", "callout");
callout.append("line").attr("x1", d => d[0]).attr("y1", d => d[1]).attr("x2", d => d[2]).attr("y2", d => d[3])
    .attr("stroke", d => d[4]).attr("stroke-width", 1.3);
callout.append("path")
    .attr("transform", d => `translate(${d[2]},${d[3]}) rotate(${Math.atan2(d[3] - d[1], d[2] - d[0]) * 180 / Math.PI})`)
    .attr("d", "M0,0L-9,-4.5L-9,4.5Z").attr("fill", d => d[4]);
</script>
</body>
</html>
